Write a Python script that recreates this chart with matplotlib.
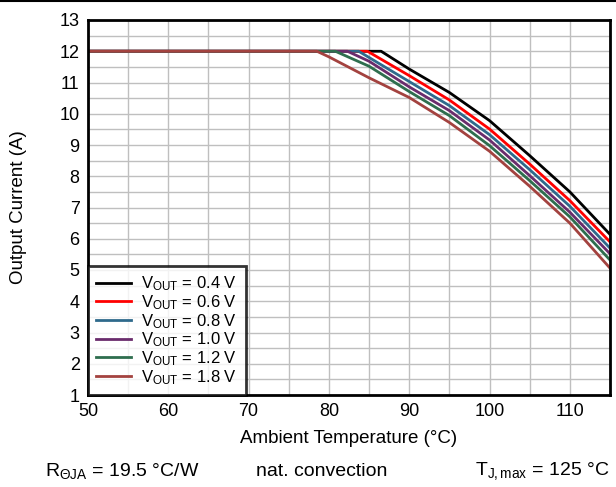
import matplotlib
matplotlib.use("Agg")
import matplotlib.pyplot as plt
from matplotlib.lines import Line2D
import numpy as np

plt.rcParams['font.family'] = ['Liberation Sans', 'DejaVu Sans']
plt.rcParams['mathtext.fontset'] = 'custom'
plt.rcParams['mathtext.rm'] = 'Liberation Sans'
plt.rcParams['mathtext.it'] = 'Liberation Sans'
plt.rcParams['mathtext.bf'] = 'Liberation Sans'

labels = ['0.4', '0.6', '0.8', '1.0', '1.2', '1.8']
colors = ['#000000', '#FF0000', '#2F6A8C', '#6A2C6C', '#2E6E4E', '#A3423F']

t_04 = [50, 86.5, 90, 95, 100, 105, 110, 115]
i_04 = [12, 12, 11.43, 10.68, 9.78, 8.66, 7.50, 6.14]
t_06 = [50, 84.8, 90, 95, 100, 105, 110, 115]
i_06 = [12, 12, 11.22, 10.44, 9.51, 8.39, 7.22, 5.90]
t_08 = [50, 83.7, 90, 95, 100, 105, 110, 115]
i_08 = [12, 12, 11.03, 10.26, 9.33, 8.21, 7.04, 5.70]
t_10 = [50, 82.3, 85, 90, 95, 100, 105, 110, 115]
i_10 = [12, 12, 11.68, 10.86, 10.10, 9.16, 8.02, 6.85, 5.52]
t_12 = [50, 80.8, 85, 90, 95, 100, 105, 110, 115]
i_12 = [12, 12, 11.52, 10.71, 9.94, 8.98, 7.86, 6.70, 5.32]
t_18 = [50, 78.5, 80, 85, 90, 95, 100, 105, 110, 115]
i_18 = [12, 12, 11.82, 11.15, 10.52, 9.72, 8.80, 7.68, 6.50, 5.06]

temps = [t_04, t_06, t_08, t_10, t_12, t_18]
currents = [i_04, i_06, i_08, i_10, i_12, i_18]

x_ticks = [50, 60, 70, 80, 90, 100, 110]
y_ticks = list(range(1, 14))

fig = plt.figure(figsize=(6.16, 4.87), dpi=100)
ax = fig.add_axes([88/616, 1-395/487, (610-88)/616, (395-20)/487])

for t, i, lab, c in zip(temps, currents, labels, colors):
    ax.plot(t, i, color=c, lw=2.0, label=r'V$_{\mathrm{OUT}}$ = ' + lab + ' V', zorder=3)

ax.set_xlim(50, 115)
ax.set_ylim(1, 13)
ax.set_xticks(x_ticks)
ax.set_yticks(y_ticks)
ax.set_xticks(np.arange(50, 116, 5), minor=True)
ax.set_yticks(np.arange(1, 13.01, 0.5), minor=True)
ax.grid(which='both', color='#BFBFBF', lw=1.0, zorder=0)
ax.tick_params(which='both', length=0, labelsize=13, pad=6, colors='black')
for s in ax.spines.values():
    s.set_linewidth(2.0)
    s.set_color('black')
    s.set_zorder(5)

ax.set_xlabel('Ambient Temperature (°C)', fontsize=13.5)
ax.set_ylabel('Output Current (A)', fontsize=13.5)
ax.xaxis.set_label_coords(0.5, (395-430)/375)
ax.yaxis.set_label_coords((27-88)/522, 0.5)

leg = ax.legend(loc='lower left', bbox_to_anchor=(0, 0), borderaxespad=0,
                fontsize=12, frameon=True, fancybox=False, edgecolor='black',
                handlelength=2.1, handletextpad=0.6, labelspacing=0.0,
                borderpad=0.5)
leg.get_frame().set_linewidth(2.0)
leg.set_zorder(6)

fig.text(45/616, 1-471/487, r'R$_{\mathrm{\Theta JA}}$ = 19.5 °C/W', fontsize=14, va='center', ha='left')
fig.text(322/616, 1-471/487, 'nat. convection', fontsize=14, va='center', ha='center')
fig.text(610/616, 1-471/487, r'T$_{\mathrm{J,max}}$ = 125 °C', fontsize=14, va='center', ha='right')

fig.add_artist(Line2D([0, 1], [1-1/487, 1-1/487], color='black', lw=1.5, transform=fig.transFigure))

fig.savefig('out.png', dpi=100)
